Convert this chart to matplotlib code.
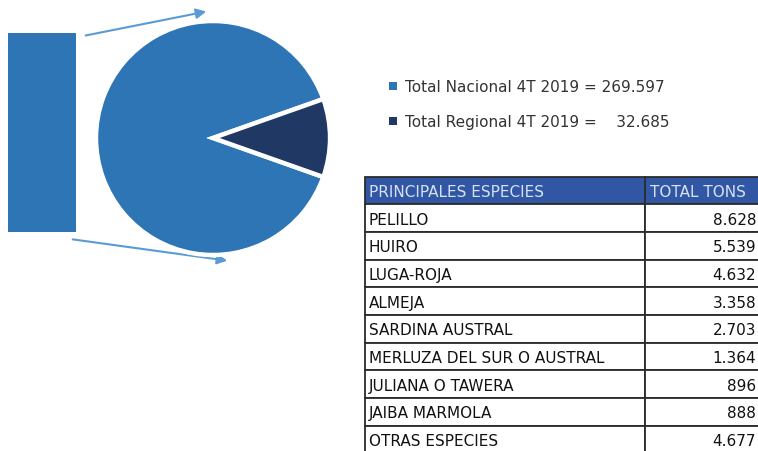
import matplotlib.pyplot as plt
from matplotlib.patches import Rectangle, FancyArrowPatch

# data
pie_labels = ["Total Nacional 4T 2019 = 269.597", "Total Regional 4T 2019 =    32.685"]
pie_values = [269.597, 32.685]
pie_colors = ["#2e75b6", "#1f3864"]

table_header = ["PRINCIPALES ESPECIES", "TOTAL TONS"]
species = ["PELILLO", "HUIRO", "LUGA-ROJA", "ALMEJA", "SARDINA AUSTRAL",
           "MERLUZA DEL SUR O AUSTRAL", "JULIANA O TAWERA", "JAIBA MARMOLA",
           "OTRAS ESPECIES"]
tons = ["8.628", "5.539", "4.632", "3.358", "2.703", "1.364", "896", "888", "4.677"]

W, H = 758, 452
fig = plt.figure(figsize=(W / 100, H / 100), dpi=100)
ax = fig.add_axes([0, 0, 1, 1])

# bar on the left and arrows
ax.add_patch(Rectangle((8, 34), 68, 199, facecolor="#2e75b6", edgecolor="none"))
for p0, p1 in [((83, 37), (209, 12)), ((70, 240), (230, 262))]:
    ax.add_patch(FancyArrowPatch(p0, p1, arrowstyle="-|>", mutation_scale=15,
                                 color="#5b9bd5", linewidth=1.5, zorder=0.5))

# pie: regional slice centred on 0 degrees
reg_frac = pie_values[1] / sum(pie_values)
start = 180 * reg_frac
wedges, _ = ax.pie(pie_values, colors=pie_colors, startangle=start,
                   counterclock=True, explode=[0, 0.04],
                   center=(213, 139), radius=117,
                   wedgeprops=dict(edgecolor="white", linewidth=3.2))

# legend
for i, (lab, col) in enumerate(zip(pie_labels, pie_colors)):
    y = 87 + i * 35
    ax.add_patch(Rectangle((389, y - 4), 8, 8, facecolor=col, edgecolor="none"))
    ax.text(405, y, lab, fontsize=11, family="DejaVu Sans", color="#333333",
            va="center", ha="left")

# table
x0, x1, x2 = 365, 645, 790
top, rh = 177.5, 27.7
border = "#2b2b2b"
tfont = dict(fontsize=11, family="DejaVu Sans", va="center")
ax.add_patch(Rectangle((x0, top), x2 - x0, rh, facecolor="#3156a3",
                       edgecolor=border, linewidth=1.3))
ax.text(x0 + 4, top + rh / 2 + 1, table_header[0], color="#d6e2f3", **tfont)
ax.text(x1 + 5, top + rh / 2 + 1, table_header[1], color="#d6e2f3", **tfont)
for i, (sp, t) in enumerate(zip(species, tons)):
    y = top + rh * (i + 1)
    for xa, xb in [(x0, x1), (x1, x2)]:
        ax.add_patch(Rectangle((xa, y), xb - xa, rh, facecolor="white",
                               edgecolor=border, linewidth=1.3))
    ax.text(x0 + 4, y + rh / 2 + 1, sp, color="#111111", **tfont)
    ax.text(756, y + rh / 2 + 1, t, color="#111111", ha="right", **tfont)
ax.plot([x1, x1], [top, top + rh], color=border, linewidth=1.3)

ax.set_xlim(0, W)
ax.set_ylim(H, 0)
ax.set_aspect("auto")
ax.axis("off")

fig.savefig("out.png", dpi=100)
